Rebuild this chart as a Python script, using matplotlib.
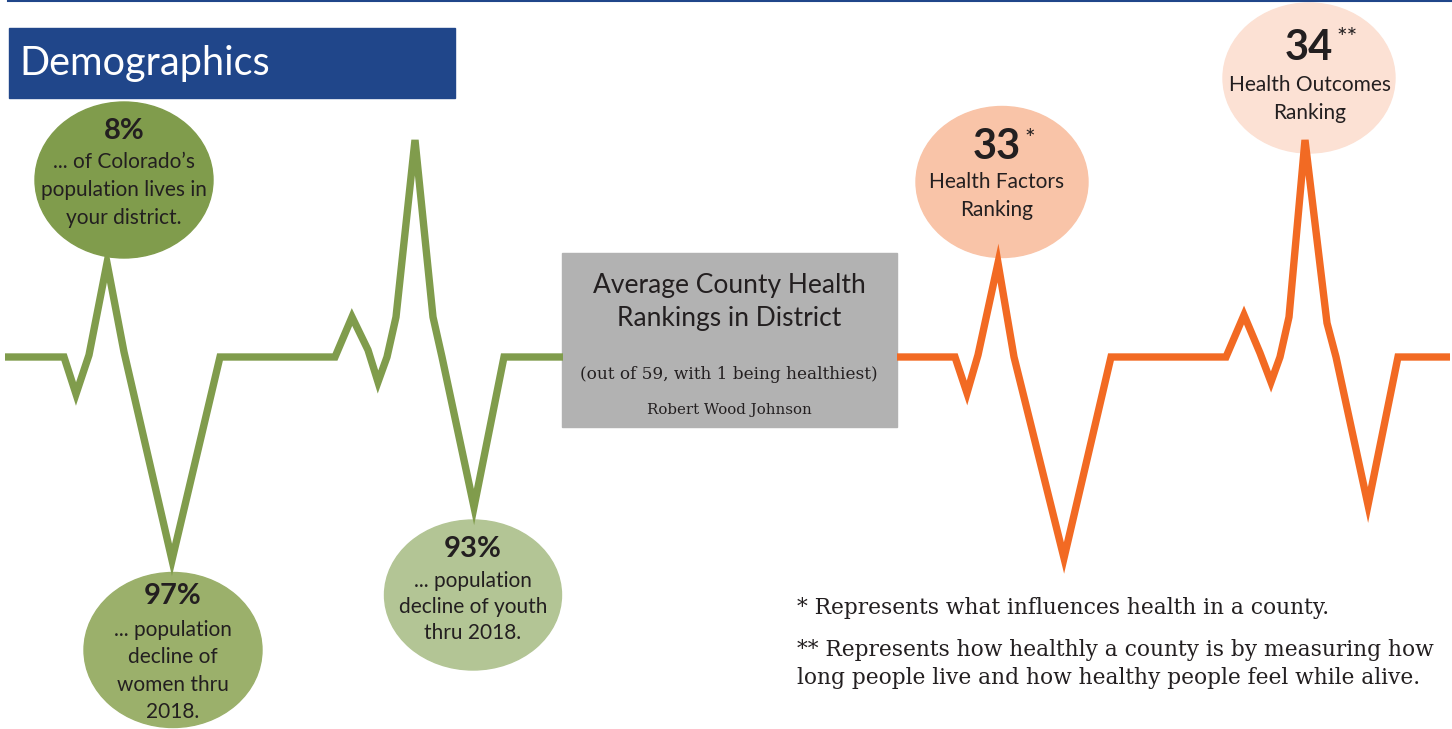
import matplotlib
matplotlib.use('Agg')
import matplotlib.pyplot as plt
from matplotlib.patches import Ellipse, Rectangle

# heartbeat traces (pixel coords of the infographic)
green_x = [5, 64, 76, 89, 107, 124, 172, 220, 335, 352, 368, 378, 387, 396, 415, 433, 442, 474, 504, 563]
green_y = [357, 357, 394, 355, 263, 352, 560, 357, 357, 317, 350, 382, 357, 317, 140, 317, 357, 507, 357, 357]
orange_x = [897, 955, 967, 978, 998, 1014, 1064, 1111, 1226, 1244, 1260, 1271, 1280, 1289, 1305, 1327, 1336, 1368, 1398, 1450]
orange_y = [357, 357, 393, 355, 263, 357, 558, 357, 357, 315, 353, 382, 357, 317, 140, 323, 357, 505, 357, 357]

demo_values = ['8%', '97%', '93%']
demo_texts = ["... of Colorado\u2019s\npopulation lives in\nyour district.",
              "... population\ndecline of\nwomen thru\n2018.",
              "... population\ndecline of youth\nthru 2018."]
rank_values = ['33', '34']
rank_marks = ['*', '**']
rank_texts = ['Health Factors\nRanking', 'Health Outcomes\nRanking']

footnotes = ["* Represents what influences health in a county.",
             "** Represents how healthly a county is by measuring how\nlong people live and how healthy people feel while alive."]

GREEN = '#809C4C'
ORANGE = '#F26A23'
NAVY = '#20468A'
DARK = '#231F20'
SANS = 'Lato'
SERIF = 'DejaVu Serif'
BODY = 15
NUM = 21

fig = plt.figure(figsize=(14.52, 7.29), dpi=100)
ax = fig.add_axes([0, 0, 1, 1])
ax.set_xlim(0, 1452)
ax.set_ylim(729, 0)
ax.axis('off')

# top rule and section header
ax.plot([8, 1452], [1, 1], color=NAVY, linewidth=1.5)
ax.add_patch(Rectangle((9, 28), 446, 70, color=NAVY))
ax.text(19, 63, 'Demographics', color='white', fontsize=28.5, family=SANS,
        va='center', ha='left')

# bubbles
demo_bubbles = [((124, 180), 178, 156, '#809C4C'),
                ((173, 650), 178, 155, '#9BB06B'),
                ((473, 595), 177, 150, '#B3C595')]
for (c, w, h, col) in demo_bubbles:
    ax.add_patch(Ellipse(c, w, h, color=col, zorder=1))

# 8% bubble
ax.text(124, 131, demo_values[0], fontsize=NUM, fontweight='bold', family=SANS,
        color=DARK, ha='center', va='center', zorder=4)
ax.text(124, 190, demo_texts[0], fontsize=BODY, family=SANS, color=DARK,
        ha='center', va='center', linespacing=1.47, zorder=4)
# 97% bubble
ax.text(173, 596, demo_values[1], fontsize=NUM, fontweight='bold', family=SANS,
        color=DARK, ha='center', va='center', zorder=4)
ax.text(173, 671, demo_texts[1], fontsize=BODY, family=SANS, color=DARK,
        ha='center', va='center', linespacing=1.47, zorder=4)
# 93% bubble
ax.text(473, 549, demo_values[2], fontsize=NUM, fontweight='bold', family=SANS,
        color=DARK, ha='center', va='center', zorder=4)
ax.text(473, 607, demo_texts[2], fontsize=BODY, family=SANS, color=DARK,
        ha='center', va='center', linespacing=1.38, zorder=4)

rank_bubbles = [((1002, 182), 172, 151, '#F9C4A8'),
                ((1309, 78), 172, 150, '#FCE1D4')]
for (c, w, h, col) in rank_bubbles:
    ax.add_patch(Ellipse(c, w, h, color=col, zorder=1))

ax.text(997, 147, rank_values[0], fontsize=30, fontweight='bold', family=SANS,
        color=DARK, ha='center', va='center', zorder=4)
ax.text(1030, 128, rank_marks[0], fontsize=18, family=SANS,
        color=DARK, ha='center', va='top', zorder=4)
ax.text(997, 196, rank_texts[0], fontsize=BODY, family=SANS, color=DARK,
        ha='center', va='center', linespacing=1.47, zorder=4)
ax.text(1309, 48, rank_values[1], fontsize=30, fontweight='bold', family=SANS,
        color=DARK, ha='center', va='center', zorder=4)
ax.text(1347, 27, rank_marks[1], fontsize=18, family=SANS,
        color=DARK, ha='center', va='top', zorder=4)
ax.text(1310, 99, rank_texts[1], fontsize=BODY, family=SANS, color=DARK,
        ha='center', va='center', linespacing=1.47, zorder=4)

# heartbeat lines
ax.plot(green_x, green_y, color=GREEN, linewidth=5.3, solid_joinstyle='miter',
        solid_capstyle='butt', zorder=3)
ax.plot(orange_x, orange_y, color=ORANGE, linewidth=5.3, solid_joinstyle='miter',
        solid_capstyle='butt', zorder=3)

# central grey box
ax.add_patch(Rectangle((562, 253), 335, 174, color='#B2B2B2', zorder=2))
ax.text(729, 302, 'Average County Health\nRankings in District', fontsize=19,
        family=SANS, color=DARK, ha='center', va='center', linespacing=1.4, zorder=4)
ax.text(729, 374, '(out of 59, with 1 being healthiest)', fontsize=12.2,
        family=SERIF, color=DARK, ha='center', va='center', zorder=4)
ax.text(729, 410, 'Robert Wood Johnson', fontsize=10.8,
        family=SERIF, color=DARK, ha='center', va='center', zorder=4)

# footnotes
ax.text(797, 608, footnotes[0], fontsize=15.7, family=SERIF, color=DARK,
        ha='left', va='center')
ax.text(797, 664, footnotes[1], fontsize=15.7, family=SERIF, color=DARK,
        ha='left', va='center', linespacing=1.3)

fig.savefig('out.png', dpi=100)
